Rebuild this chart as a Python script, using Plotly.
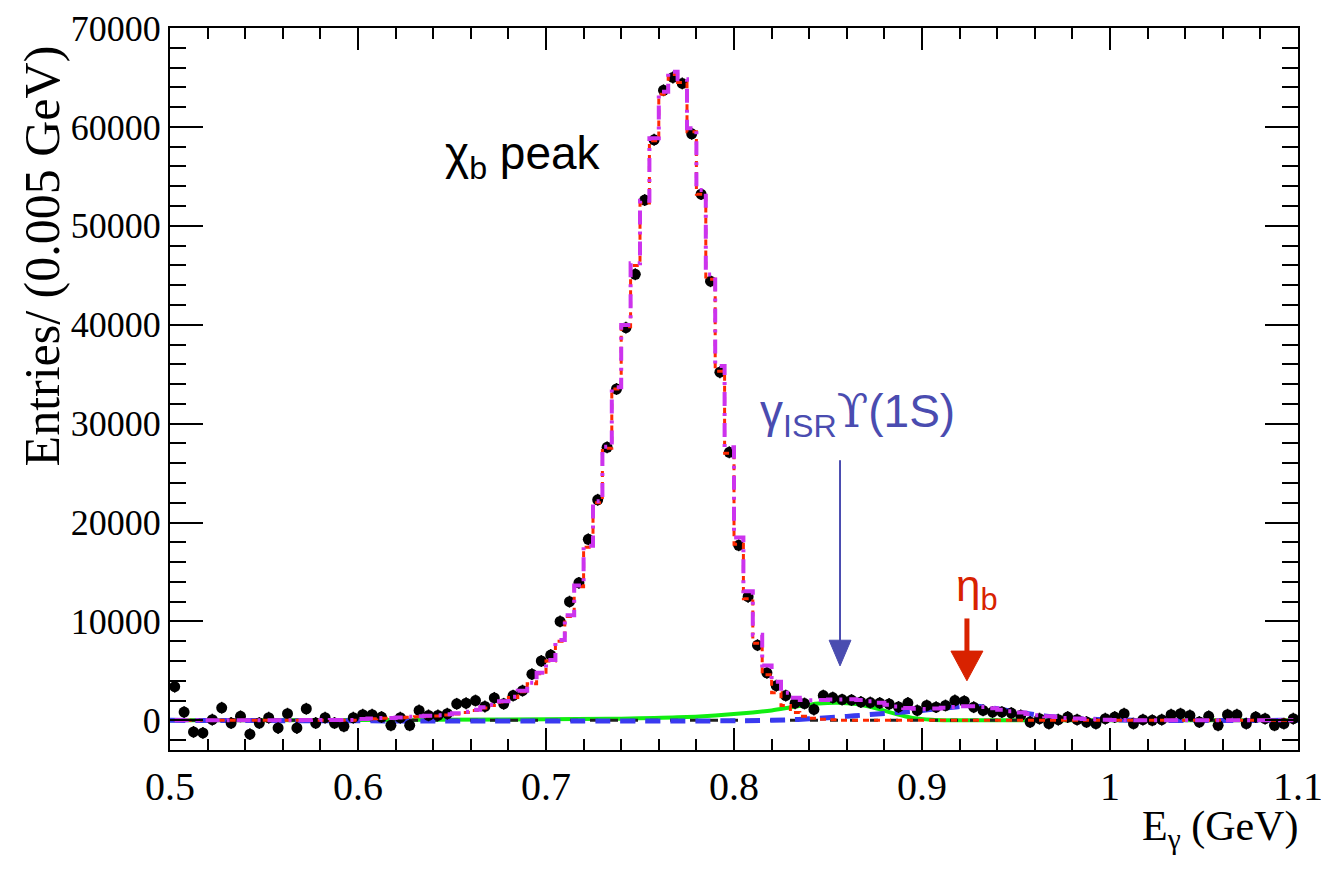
import numpy as np
import plotly.graph_objects as go

# ---------------- data ----------------
bin_width = 0.005
n_bins = 120
e_gamma = [round(0.5 + bin_width * (i + 0.5), 4) for i in range(n_bins)]

entries = [
    3400, 830, -1170, -1270, 70, 1270, -270, 400, -1400, -270,
    270, -770, 670, -770, 1170, -270, 270, -270, -600, 270,
    570, 570, 330, -500, 270, -500, 1000, 500, 500, 670,
    1670, 1730, 2000, 1400, 2270, 1670, 2500, 3000, 4670, 6000,
    6600, 10000, 12000, 13900, 18300, 22300, 27600, 33500, 39700, 45100,
    52600, 58700, 63700, 65000, 64400, 59300, 53200, 44400, 35200, 27100,
    17700, 12500, 7600, 4800, 3500, 2500, 1730, 1700, 1100, 2500,
    2300, 2100, 2050, 1850, 1800, 1750, 1650, 1350, 1750, 1000,
    1500, 1330, 1500, 2000, 1930, 1330, 1000, 830, 830, 730,
    500, -170, 170, -330, 70, 330, 70, -170, -330, 170,
    330, 670, -330, 70, 0, 70, 570, 670, 500, -170,
    400, -500, 570, 570, -330, 330, 170, -500, -330, 170,
]
entry_err = 600

chib_fit = ([0] * 20 +
            [100, 150, 200, 200, 250, 300,
             350, 400, 450, 550, 650, 800, 1000, 1250, 1500, 1850, 2300, 2900,
             3700, 4700, 6000, 8000, 10500, 13500, 17500, 22000, 27500, 33500,
             39800, 46000, 52300, 58600, 63300, 65300, 64500, 59500, 53200,
             44600, 35300, 27000, 17800, 12300, 7800, 4600, 2800, 1500, 800,
             400, 200, 100, 50] +
            [0] * 49)

isr_x = [0.50, 0.60, 0.70, 0.74, 0.77, 0.79, 0.81, 0.82, 0.833, 0.845, 0.855,
         0.865, 0.875, 0.885, 0.895, 0.905, 0.92, 1.10]
isr_y = [0, 30, 100, 170, 300, 500, 800, 1000, 1400, 1700, 1780,
         1650, 1250, 700, 250, 50, 0, 0]

etab_x = [0.50, 0.82, 0.84, 0.86, 0.88, 0.90, 0.915, 0.925, 0.935, 0.95,
          0.965, 0.98, 1.00, 1.02, 1.10]
etab_y = [0, 0, 150, 400, 700, 1000, 1300, 1450, 1300, 850,
          450, 200, 50, 0, 0]

bkg_x = [0.5, 1.1]
bkg_y = [0, 0]

x_ticks = [0.5, 0.6, 0.7, 0.8, 0.9, 1.0, 1.1]
x_tick_labels = ["0.5", "0.6", "0.7", "0.8", "0.9", "1", "1.1"]
y_ticks = [0, 10000, 20000, 30000, 40000, 50000, 60000, 70000]
y_tick_labels = ["0", "10000", "20000", "30000", "40000", "50000", "60000", "70000"]

# arrows (data coordinates)
isr_arrow_x, isr_arrow_top, isr_arrow_tip = 0.8564, 26300, 5500
etab_arrow_x, etab_arrow_top, etab_arrow_tip = 0.9239, 10300, 4000

# ---------------- figure ----------------
total_fit = [c + float(np.interp(e, isr_x, isr_y)) + float(np.interp(e, etab_x, etab_y))
             for c, e in zip(chib_fit, e_gamma)]

fig = go.Figure()

fig.add_trace(go.Scatter(x=isr_x, y=isr_y, mode="lines", line=dict(color="#11ee11", width=4, shape="spline"),
                         showlegend=False, hoverinfo="skip"))
fig.add_trace(go.Scatter(x=bkg_x, y=bkg_y, mode="lines", line=dict(color="#202020", width=3, dash="8px,12px"),
                         showlegend=False, hoverinfo="skip"))
fig.add_trace(go.Scatter(x=etab_x, y=etab_y, mode="lines", line=dict(color="#3a3af0", width=5, dash="15px,10px", shape="spline"),
                         showlegend=False, hoverinfo="skip"))
fig.add_trace(go.Scatter(x=e_gamma, y=entries, mode="markers",
                         marker=dict(color="black", size=11),
                         error_y=dict(type="constant", value=entry_err, color="black", thickness=1.5, width=0),
                         showlegend=False))
fig.add_trace(go.Scatter(x=e_gamma, y=chib_fit, mode="lines", line=dict(color="#ff2a00", width=3, dash="6px,5px", shape="hvh"),
                         showlegend=False, hoverinfo="skip"))
fig.add_trace(go.Scatter(x=e_gamma, y=total_fit, mode="lines", line=dict(color="#cc33ee", width=4, dash="14px,7px,3px,7px", shape="hvh"),
                         showlegend=False, hoverinfo="skip"))

shapes = []
# blue thin arrow
shapes.append(dict(type="line", xref="x", yref="y", x0=isr_arrow_x, x1=isr_arrow_x,
                   y0=isr_arrow_top, y1=isr_arrow_tip + 2000, line=dict(color="#4a4cb0", width=2)))
shapes.append(dict(type="path", xref="x", yref="y",
                   path=f"M {isr_arrow_x-0.0058},{isr_arrow_tip+2600} L {isr_arrow_x+0.0058},{isr_arrow_tip+2600} L {isr_arrow_x},{isr_arrow_tip} Z",
                   fillcolor="#4a4cb0", line=dict(color="#4a4cb0", width=1)))
# red thick arrow
shapes.append(dict(type="line", xref="x", yref="y", x0=etab_arrow_x, x1=etab_arrow_x,
                   y0=etab_arrow_top, y1=etab_arrow_tip + 2500, line=dict(color="#d82200", width=5)))
shapes.append(dict(type="path", xref="x", yref="y",
                   path=f"M {etab_arrow_x-0.0085},{etab_arrow_tip+3000} L {etab_arrow_x+0.0085},{etab_arrow_tip+3000} L {etab_arrow_x},{etab_arrow_tip} Z",
                   fillcolor="#d82200", line=dict(color="#d82200", width=1)))

annotations = [
    dict(x=0.6875, y=57000, xref="x", yref="y", text="χ<sub>b</sub> peak", showarrow=False,
         font=dict(family="Liberation Sans, Arial", size=46, color="black"), xanchor="center", yanchor="middle"),
    dict(x=0.8655, y=31000, xref="x", yref="y",
         text="γ<sub>ISR</sub><span style=\"font-family:'DejaVu Serif'\">ϒ</span>(1S)", showarrow=False,
         font=dict(family="Liberation Sans, Arial", size=46, color="#4a4cb0"), xanchor="center", yanchor="middle"),
    dict(x=0.929, y=13300, xref="x", yref="y", text="η<sub>b</sub>", showarrow=False,
         font=dict(family="Liberation Sans, Arial", size=44, color="#d82200"), xanchor="center", yanchor="middle"),
    dict(x=-0.1135, y=0.685, xref="paper", yref="paper", text="Entries/ (0.005 GeV)", textangle=-90, showarrow=False,
         font=dict(family="Liberation Serif, Times New Roman", size=50, color="black"), xanchor="center", yanchor="middle"),
    dict(x=1.002, y=-0.11, xref="paper", yref="paper", text="E<sub>γ</sub> (GeV)", showarrow=False,
         font=dict(family="Liberation Serif, Times New Roman", size=42, color="black"), xanchor="right", yanchor="middle"),
]

# page body has an 8px offset; margins compensate so the frame lands near 170..1298 x 28..750
fig.update_layout(
    width=1329, height=869,
    margin=dict(l=162, r=39, t=20, b=127, autoexpand=False),
    plot_bgcolor="white", paper_bgcolor="white",
    shapes=shapes, annotations=annotations,
    font=dict(family="Liberation Serif, Times New Roman", color="black"),
)
fig.update_xaxes(range=[0.5, 1.1], tickvals=x_ticks, ticktext=x_tick_labels, automargin=False,
                 ticks="inside", ticklen=22, tickwidth=2, tickcolor="black",
                 showline=True, linecolor="black", linewidth=2, mirror="allticks",
                 showgrid=False, zeroline=False, ticklabeloverflow="allow",
                 tickfont=dict(size=40, family="Liberation Serif, Times New Roman"),
                 minor=dict(dtick=0.02, tick0=0.5, ticks="inside", ticklen=11, tickwidth=2, tickcolor="black", showgrid=False))
fig.update_yaxes(range=[-3000, 70001], tickvals=y_ticks, ticktext=y_tick_labels, automargin=False,
                 ticks="inside", ticklen=33, tickwidth=2, tickcolor="black",
                 showline=True, linecolor="black", linewidth=2, mirror="allticks",
                 showgrid=False, zeroline=False, ticklabeloverflow="allow",
                 tickfont=dict(size=36, family="Liberation Serif, Times New Roman"),
                 minor=dict(dtick=2000, tick0=0, ticks="inside", ticklen=16, tickwidth=2, tickcolor="black", showgrid=False))

fig.write_html("out.html")
